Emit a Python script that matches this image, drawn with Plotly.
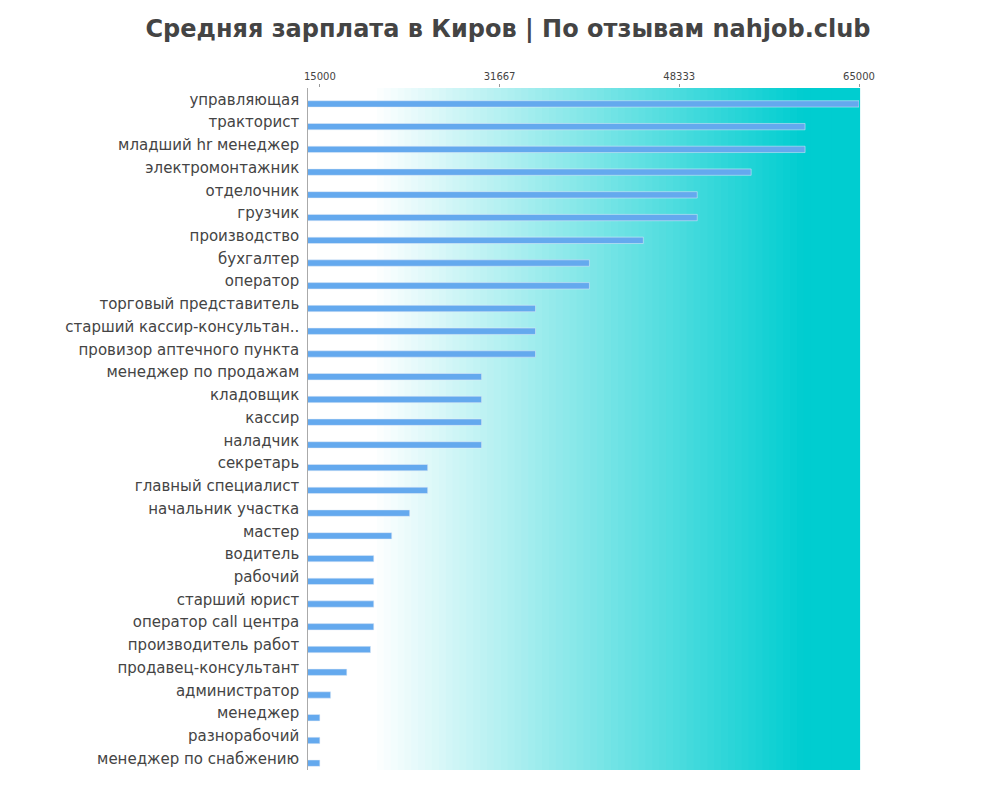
import plotly.graph_objects as go

jobs = ["управляющая", "тракторист", "младший hr менеджер", "электромонтажник",
        "отделочник", "грузчик", "производство", "бухгалтер", "оператор",
        "торговый представитель", "старший кассир-консультан..", "провизор аптечного пункта",
        "менеджер по продажам", "кладовщик", "кассир", "наладчик", "секретарь",
        "главный специалист", "начальник участка", "мастер", "водитель", "рабочий",
        "старший юрист", "оператор call центра", "производитель работ",
        "продавец-консультант", "администратор", "менеджер", "разнорабочий",
        "менеджер по снабжению"]
salary = [65000, 60000, 60000, 55000, 50000, 50000, 45000, 40000, 40000,
          35000, 35000, 35000, 30000, 30000, 30000, 30000, 25000, 25000,
          23333, 21667, 20000, 20000, 20000, 20000, 19700, 17500, 16000,
          15000, 15000, 15000]
ticks = [15000, 31667, 48333, 65000]
x_min = 13900


def ramp(t):
    # white -> cyan, flat at the ends
    t = min(max((t - 0.12) / (0.9 - 0.12), 0), 1)
    c0, c1 = (255, 255, 255), (0, 205, 208)
    return "rgb(%d,%d,%d)" % tuple(round(a + (b - a) * t) for a, b in zip(c0, c1))


n = 80
shapes = [dict(type="rect", xref="x domain", yref="y domain",
               x0=i / n, x1=(i + 1) / n + 0.002, y0=0, y1=1,
               fillcolor=ramp((i + 0.5) / n), line_width=0, layer="below")
          for i in range(n)]

fig = go.Figure(go.Bar(
    x=salary, y=jobs, orientation="h",
    marker_color="#64a9ee", width=0.28, offset=0.06))

fig.update_layout(
    width=1000, height=800, shapes=shapes,
    title=dict(text="<b>Средняя зарплата в Киров | По отзывам nahjob.club</b>",
               x=0.5, y=0.985, font=dict(size=24, color="#444", family="DejaVu Sans")),
    margin=dict(l=300, r=149, t=80, b=38),
    plot_bgcolor="white", paper_bgcolor="white", showlegend=False,
    xaxis=dict(range=[x_min, 65000], side="top", tickvals=ticks,
               ticktext=[str(t) for t in ticks], showgrid=False, zeroline=False,
               tickfont=dict(size=10, color="#444"), ticks="outside", ticklen=3,
               tickcolor="#999"),
    yaxis=dict(autorange="reversed", tickfont=dict(size=15, color="#444"),
               showline=True, linecolor="#aaa", ticks="", ticksuffix=" "),
    font=dict(family="DejaVu Sans"),
)

fig.write_html("out.html")
